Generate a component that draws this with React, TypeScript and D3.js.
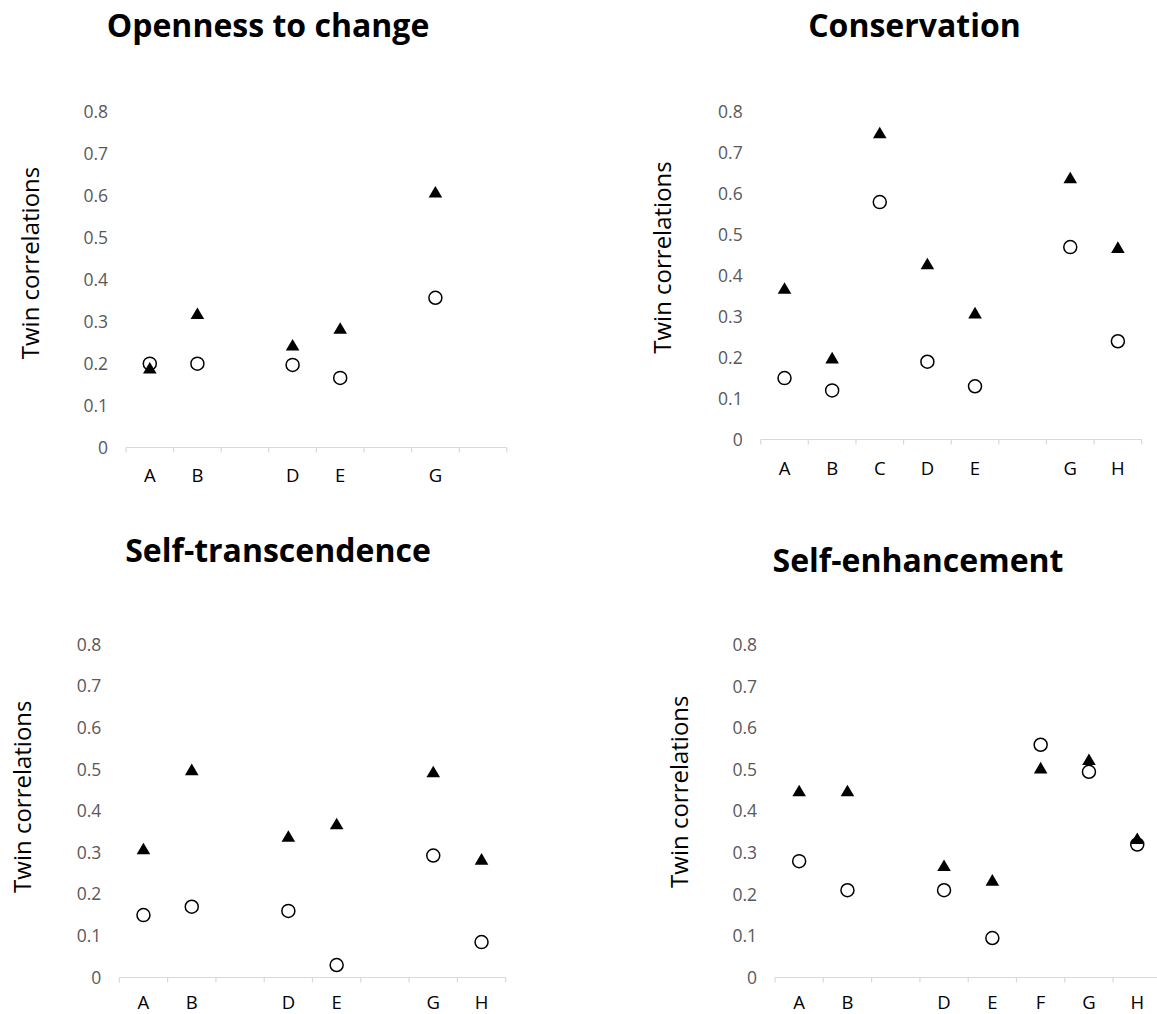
import React from "react";
import * as d3 from "d3";

const CATEGORIES = ["A", "B", "C", "D", "E", "F", "G", "H"];
const Y_TICKS = [0, 0.1, 0.2, 0.3, 0.4, 0.5, 0.6, 0.7, 0.8];

const TITLES = ["Openness to change", "Conservation", "Self-transcendence", "Self-enhancement"];

// triangles (filled) and circles (open) per panel; null = no data
const OPEN_TRI = [0.19, 0.32, null, 0.245, 0.285, null, 0.61, null];
const OPEN_CIRC = [0.2, 0.2, null, 0.197, 0.166, null, 0.357, null];
const CONS_TRI = [0.37, 0.2, 0.75, 0.43, 0.31, null, 0.64, 0.47];
const CONS_CIRC = [0.15, 0.12, 0.58, 0.19, 0.13, null, 0.47, 0.24];
const TRANS_TRI = [0.31, 0.5, null, 0.34, 0.37, null, 0.495, 0.285];
const TRANS_CIRC = [0.15, 0.17, null, 0.16, 0.03, null, 0.293, 0.085];
const ENH_TRI = [0.45, 0.45, null, 0.27, 0.235, 0.505, 0.525, 0.335];
const ENH_CIRC = [0.28, 0.21, null, 0.21, 0.095, 0.56, 0.495, 0.32];

const SERIES_TRI = [OPEN_TRI, CONS_TRI, TRANS_TRI, ENH_TRI];
const SERIES_CIRC = [OPEN_CIRC, CONS_CIRC, TRANS_CIRC, ENH_CIRC];

// layout (pixel geometry, separate from data)
const LAYOUT = [
  { x: [126, 506.8], y: [447.5, 112], axisLabel: [29, 263], xLabelY: 481.5, title: [268, 37] },
  { x: [760.7, 1141.7], y: [439.5, 112], axisLabel: [661.7, 257.5], xLabelY: 475, title: [914.5, 37] },
  { x: [119.3, 505.7], y: [977.5, 644.5], axisLabel: [21, 796.7], xLabelY: 1009, title: [278, 562] },
  { x: [775, 1161.4], y: [977.5, 645], axisLabel: [678.3, 791.7], xLabelY: 1009, title: [918, 572] },
];

const FONT = "'Open Sans', 'Noto Sans', sans-serif";

function Panel({ idx }: { idx: number }) {
  const L = LAYOUT[idx];
  const tri = SERIES_TRI[idx];
  const circ = SERIES_CIRC[idx];
  const x = d3.scaleBand<string>().domain(CATEGORIES).range(L.x as [number, number]).padding(0);
  const y = d3.scaleLinear().domain([0, 0.8]).range(L.y as [number, number]);
  const cx = (c: string) => (x(c) as number) + x.bandwidth() / 2;
  const boundaries = CATEGORIES.map((c) => x(c) as number).concat([L.x[1]]);
  const y0 = y(0);
  const triPath = (px: number, py: number) => {
    const p = d3.path();
    const w = 6.8;
    const h = 5.8;
    p.moveTo(px, py - h);
    p.lineTo(px + w, py + h);
    p.lineTo(px - w, py + h);
    p.closePath();
    return p.toString();
  };
  const shown = CATEGORIES.filter((_, i) => tri[i] != null || circ[i] != null);
  return (
    <g>
      <text
        x={L.title[0]}
        y={L.title[1]}
        textAnchor="middle"
        fontFamily={FONT}
        fontWeight="bold"
        fontSize={32}
        fill="#000"
      >
        {TITLES[idx]}
      </text>
      <text
        transform={`translate(${L.axisLabel[0]},${L.axisLabel[1]}) rotate(-90)`}
        textAnchor="middle"
        dominantBaseline="central"
        fontFamily={FONT}
        fontSize={24}
        fill="#000"
      >
        Twin correlations
      </text>
      {Y_TICKS.map((t) => (
        <text
          key={t}
          x={L.x[0] - 18}
          y={y(t)}
          dy="0.35em"
          textAnchor="end"
          fontFamily={FONT}
          fontSize={17.5}
          fill="#595959"
        >
          {d3.format("")(t)}
        </text>
      ))}
      <line x1={L.x[0]} x2={L.x[1]} y1={y0} y2={y0} stroke="#d9d9d9" strokeWidth={1.2} />
      {boundaries.map((b, i) => (
        <line key={i} x1={b} x2={b} y1={y0} y2={y0 + 5} stroke="#d9d9d9" strokeWidth={1.2} />
      ))}
      {shown.map((c) => (
        <text
          key={c}
          x={cx(c)}
          y={L.xLabelY}
          textAnchor="middle"
          fontFamily={FONT}
          fontSize={18.5}
          fill="#000"
        >
          {c}
        </text>
      ))}
      {CATEGORIES.map((c, i) =>
        circ[i] == null ? null : (
          <circle key={"c" + c} cx={cx(c)} cy={y(circ[i] as number)} r={6.5} fill="#fff" stroke="#000" strokeWidth={1.5} />
        )
      )}
      {CATEGORIES.map((c, i) =>
        tri[i] == null ? null : <path key={"t" + c} d={triPath(cx(c), y(tri[i] as number))} fill="#000" />
      )}
    </g>
  );
}

export default function App() {
  return (
    <svg
      width={1157}
      height={1014}
      style={{ position: "absolute", left: 0, top: 0, background: "#fff" }}
    >
      <rect width={1157} height={1014} fill="#fff" />
      {[0, 1, 2, 3].map((i) => (
        <Panel key={i} idx={i} />
      ))}
    </svg>
  );
}
